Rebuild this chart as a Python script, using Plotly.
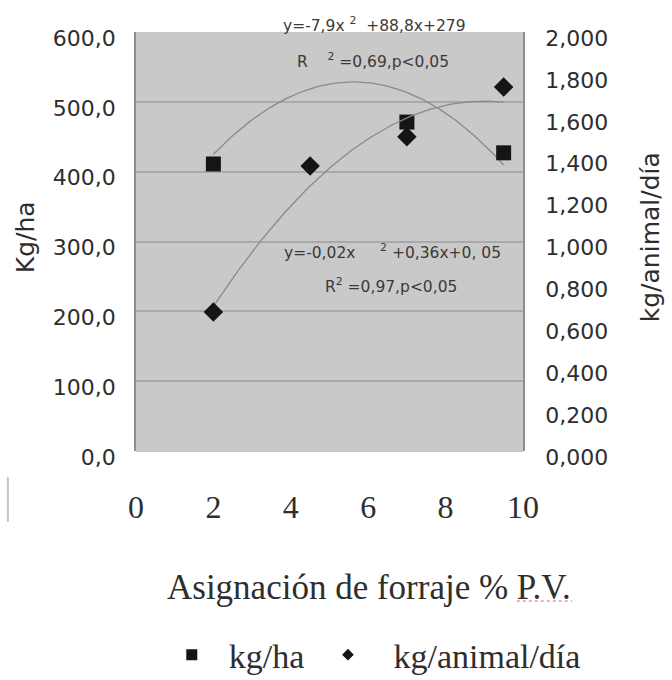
import numpy as np
import plotly.graph_objects as go

# Forage allowance (% live weight) and the two responses
x_ha = [2, 7, 9.5]
kg_ha = [411, 471, 427]

x_animal = [2, 4.5, 7, 9.5]
kg_animal = [0.663, 1.36, 1.50, 1.737]

# Quadratic fits reported on the chart
fit_ha = [-7.9, 88.8, 279]
fit_animal = [-0.02, 0.36, 0.05]

left_ticks = [0, 100, 200, 300, 400, 500, 600]
left_labels = ["0,0", "100,0", "200,0", "300,0", "400,0", "500,0", "600,0"]
right_ticks = [0, 0.2, 0.4, 0.6, 0.8, 1.0, 1.2, 1.4, 1.6, 1.8, 2.0]
right_labels = ["0,000", "0,200", "0,400", "0,600", "0,800", "1,000",
                "1,200", "1,400", "1,600", "1,800", "2,000"]
x_ticks = [0, 2, 4, 6, 8, 10]

SANS = "DejaVu Sans"
SERIF = "Liberation Serif"
INK = "#2e2e2e"
MARK = "#151515"
CURVE = "#8a8a8a"
NB = "\u00a0"

xs = np.linspace(2, 9.5, 120)
curve_ha = np.polyval(fit_ha, xs)
curve_animal = np.polyval(fit_animal, xs)

fig = go.Figure()

# trend curves
fig.add_trace(go.Scatter(x=xs, y=curve_ha, mode="lines", showlegend=False,
                         line=dict(color=CURVE, width=1.3), hoverinfo="skip"))
fig.add_trace(go.Scatter(x=xs, y=curve_animal, mode="lines", showlegend=False,
                         yaxis="y2", line=dict(color=CURVE, width=1.3),
                         hoverinfo="skip"))

# observed points
fig.add_trace(go.Scatter(x=x_ha, y=kg_ha, mode="markers", showlegend=False,
                         marker=dict(symbol="square", size=15, color=MARK)))
fig.add_trace(go.Scatter(x=x_animal, y=kg_animal, mode="markers",
                         showlegend=False, yaxis="y2",
                         marker=dict(symbol="diamond", size=15, color=MARK)))

# legend entries (one legend box each) with their own symbol sizes
fig.add_trace(go.Scatter(x=[None], y=[None], mode="markers",
                         name=f"{NB}{NB}kg/ha", legend="legend",
                         marker=dict(symbol="square", size=11, color=MARK)))
fig.add_trace(go.Scatter(x=[None], y=[None], mode="markers",
                         name=f"{NB}{NB}{NB}kg/animal/día", legend="legend2",
                         marker=dict(symbol="diamond", size=9, color=MARK)))

annotations = [
    dict(text=f"y=-7,9x{NB}<sup>2</sup>{NB}{NB}+88,8x+279",
         x=0.615, y=1.019),
    dict(text=f"R{NB}{NB}{NB}{NB}<sup>2</sup>{NB}=0,69,p<0,05",
         x=0.612, y=0.933),
    dict(text=f"y=-0,02x{NB}{NB}{NB}{NB}{NB}<sup>2</sup>{NB}+0,36x+0, 05",
         x=0.662, y=0.475),
    dict(text=f"R<sup>2</sup>{NB}=0,97,p<0,05", x=0.66, y=0.396),
]
for a in annotations:
    a.update(xref="paper", yref="paper", showarrow=False,
             xanchor="center", yanchor="middle",
             font=dict(family=SANS, size=15.5, color="#3a3a3a"))

# axis titles and horizontal caption
annotations += [
    dict(text="Kg/ha", x=-0.287, y=0.51, textangle=-90,
         font=dict(family=SANS, size=25, color=INK)),
    dict(text="kg/animal/día", x=1.328, y=0.51, textangle=-90,
         font=dict(family=SANS, size=25, color=INK)),
    dict(text="Asignación de forraje % P.V.", x=0.602, y=-0.325,
         font=dict(family=SERIF, size=35, color=INK)),
]
for a in annotations[-3:]:
    a.update(xref="paper", yref="paper", showarrow=False,
             xanchor="center", yanchor="middle")

legend_style = dict(orientation="h", xanchor="left", y=-0.487,
                    yanchor="middle",
                    font=dict(family=SERIF, size=34, color=INK),
                    bgcolor="rgba(0,0,0,0)", itemclick=False)

fig.update_layout(
    width=672, height=680,
    margin=dict(l=136, r=149, t=32, b=229, autoexpand=False),
    paper_bgcolor="white",
    plot_bgcolor="#c9c9c9",
    annotations=annotations,
    showlegend=True,
    legend=dict(x=0.0925, **legend_style),
    legend2=dict(x=0.496, **legend_style),
    xaxis=dict(range=[0, 10], tickvals=x_ticks, showgrid=False,
               zeroline=False, showline=False, ticks="", automargin=False,
               tickfont=dict(family=SERIF, size=32, color=INK),
               ticklabelstandoff=34),
    yaxis=dict(range=[0, 600], tickvals=left_ticks, ticktext=left_labels,
               showgrid=True, gridcolor="#a9a9a9", gridwidth=2,
               zeroline=True, zerolinecolor="#c9c9c9", zerolinewidth=1,
               showline=True, linecolor="#8e8e8e", linewidth=1.5,
               ticks="", ticklabelstandoff=14, ticklabelshift=6,
               automargin=False,
               tickfont=dict(family=SANS, size=22, color=INK)),
    yaxis2=dict(range=[0, 2], tickvals=right_ticks, ticktext=right_labels,
                overlaying="y", side="right", showgrid=False,
                zeroline=False, showline=True, linecolor="#8e8e8e",
                linewidth=1.5, ticks="", ticklabelstandoff=16,
                ticklabelshift=6, automargin=False,
                tickfont=dict(family=SANS, size=22, color=INK)),
    shapes=[
        # thin vertical rule at the lower left
        dict(type="line", xref="paper", yref="paper",
             x0=-0.331, x1=-0.331, y0=-0.062, y1=-0.169,
             line=dict(color="#c4c4c4", width=2)),
        # faint dotted underline beneath "P.V."
        dict(type="line", xref="paper", yref="paper",
             x0=0.984, x1=1.127, y0=-0.358, y1=-0.358,
             line=dict(color="#e59a9a", width=1.5, dash="dot")),
    ],
)

fig.write_html("out.html")
